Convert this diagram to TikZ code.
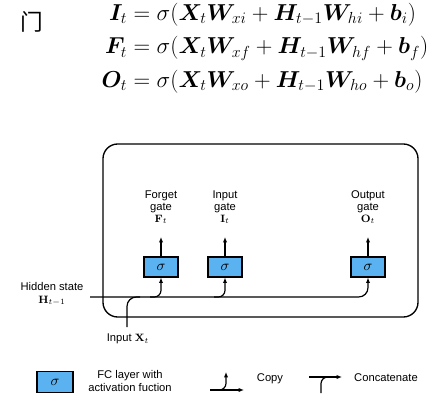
\documentclass[tikz,border=0pt]{standalone}
\usepackage{amsmath,bm}
\usepackage[no-math]{fontspec}
\setmainfont{Liberation Sans}
\newfontfamily\cjk{Noto Sans CJK SC}
\usetikzlibrary{positioning,arrows.meta}
\definecolor{fcblue}{RGB}{90,178,240}

\begin{document}
\begin{tikzpicture}[x=0.75pt,y=-0.75pt,
  every node/.style={font=\fontsize{8.4}{10}\selectfont},
  fclayer/.style={draw=black,fill=fcblue,line width=0.8pt,minimum width=25.5pt,minimum height=15pt,inner sep=0pt,font=\fontsize{11}{12}\selectfont},
  flow/.style={line width=0.9pt,-{Latex[length=4pt,width=3.2pt]}},
  gatelabel/.style={align=center,inner sep=1pt,font=\fontsize{8.4}{9}\selectfont}]
\useasboundingbox (0,0) rectangle (436,403);
% title and equations
\node (gatech) at (32,22) {\cjk\fontsize{17}{20}\selectfont 门};
\node (eqs) at (265,48) {\fontsize{16.5}{22}\selectfont$\begin{aligned}
\bm{I}_t &= \sigma(\bm{X}_t\bm{W}_{xi} + \bm{H}_{t-1}\bm{W}_{hi} + \bm{b}_i)\\
\bm{F}_t &= \sigma(\bm{X}_t\bm{W}_{xf} + \bm{H}_{t-1}\bm{W}_{hf} + \bm{b}_f)\\
\bm{O}_t &= \sigma(\bm{X}_t\bm{W}_{xo} + \bm{H}_{t-1}\bm{W}_{ho} + \bm{b}_o)
\end{aligned}$};
% cell frame
\draw[line width=1pt,rounded corners=11pt] (103,144) rectangle (418,317);
% gates
\node[fclayer] (fgate) at (161,267) {$\sigma$};
\node[fclayer] (igate) at (225,267) {$\sigma$};
\node[fclayer] (ogate) at (368,267) {$\sigma$};
\coordinate (ftip) at (161,237);
\coordinate (itip) at (225,237);
\coordinate (otip) at (368,237);
\draw[flow] (fgate) -- (ftip);
\draw[flow] (igate) -- (itip);
\draw[flow] (ogate) -- (otip);
\node[gatelabel,above=9pt of ftip] (flabel) {Forget\\gate\\$\mathbf{F}_t$};
\node[gatelabel,above=9pt of itip] (ilabel) {Input\\gate\\$\mathbf{I}_t$};
\node[gatelabel,above=9pt of otip] (olabel) {Output\\gate\\$\mathbf{O}_t$};
% hidden state and input
\coordinate (hin) at (90,297);
\coordinate (fbranch) at (150,297);
\coordinate (ibranch) at (214,297);
\coordinate (xin) at (127,327);
\coordinate (xjoin) at (140,297);
\draw[flow,rounded corners=7pt] (hin) -| (ogate);
\draw[flow,rounded corners=5pt] (fbranch) -| (fgate);
\draw[flow,rounded corners=5pt] (ibranch) -| (igate);
\draw[line width=0.9pt,rounded corners=7pt] (xin) |- (xjoin);
\node[align=center] (hlabel) at (52,294) {Hidden state\\$\mathbf{H}_{t-1}$};
\node (xlabel) at (128,339) {Input $\mathbf{X}_t$};
% legend
\node[fclayer,minimum width=27pt,minimum height=15.75pt] (legbox) at (55,382) {$\sigma$};
\node[align=center] (legfc) at (130,381) {FC layer with\\activation fuction};
\coordinate (cpfrom) at (210,390);
\coordinate (cpto) at (244,390);
\coordinate (cpbranch) at (218,390);
\coordinate (cpup) at (226,372);
\draw[flow] (cpfrom) -- (cpto);
\draw[flow,rounded corners=5pt] (cpbranch) -| (cpup);
\node (legcopy) at (270,379) {Copy};
\coordinate (ccfrom) at (309,377);
\coordinate (ccto) at (342,377);
\coordinate (ccin) at (321,393);
\coordinate (ccjoin) at (330,377);
\draw[flow] (ccfrom) -- (ccto);
\draw[line width=0.9pt,rounded corners=5pt] (ccin) |- (ccjoin);
\node (legcat) at (386,378) {Concatenate};
\end{tikzpicture}
\end{document}
